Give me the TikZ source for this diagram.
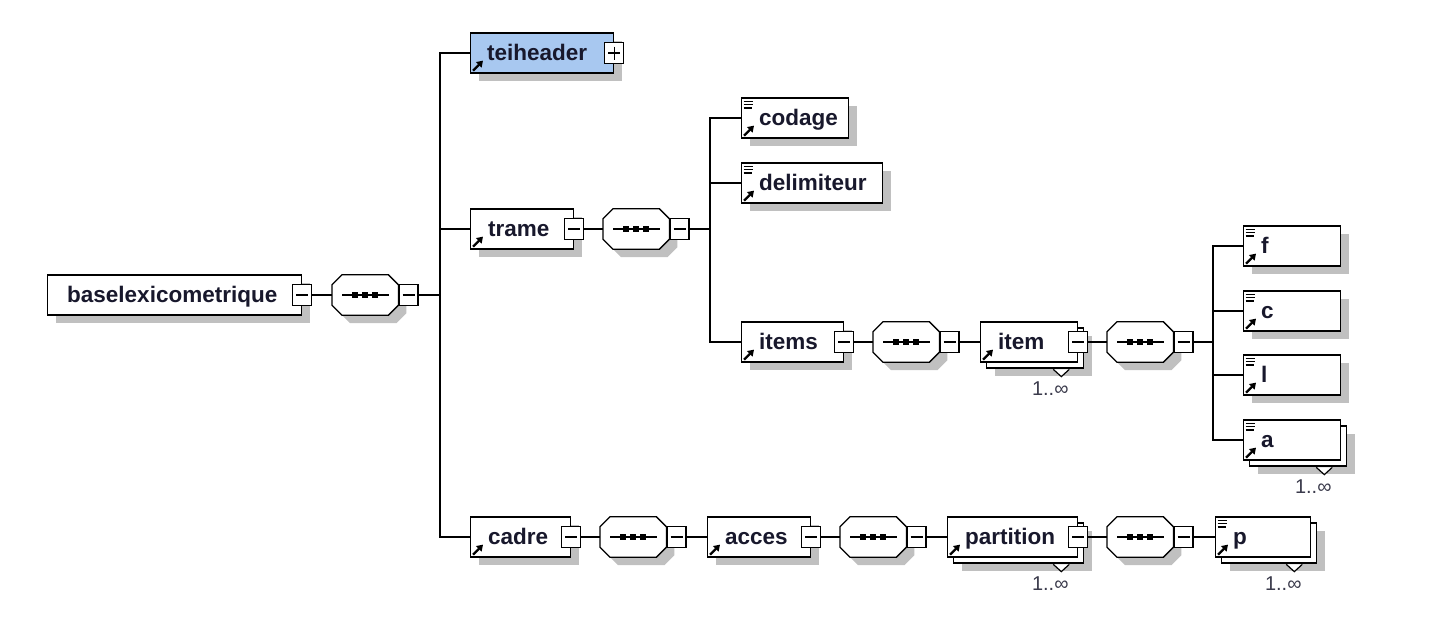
\documentclass[tikz,border=0pt]{standalone}
\usepackage{fontspec}
\setmainfont{Liberation Sans}
\usetikzlibrary{shadows,arrows.meta}
\definecolor{shadowc}{RGB}{192,192,192}
\definecolor{teiblue}{RGB}{168,200,240}
\definecolor{txt}{RGB}{24,24,44}
\tikzset{
 ebase/.style={draw=black, line width=1.3pt, fill=white, minimum height=40pt, inner sep=0pt, anchor=west},
 ebox/.style={ebase, drop shadow={shadow xshift=8pt, shadow yshift=-8pt, fill=shadowc, opacity=1}},
 etext/.style={font=\bfseries\fontsize{22.5}{27}\selectfont, text=txt, inner sep=0pt, anchor=base west},
 tgl/.style={draw=black, line width=1.2pt, fill=white, minimum width=19pt, minimum height=21pt, inner sep=0pt},
 tglminus/.style={tgl, path picture={\draw[line width=1.2pt] ([xshift=3.5pt]path picture bounding box.west) -- ([xshift=-3.5pt]path picture bounding box.east);}},
 tglplus/.style={tgl, path picture={\draw[line width=1.2pt] ([xshift=3.5pt]path picture bounding box.west) -- ([xshift=-3.5pt]path picture bounding box.east) ([yshift=-4pt]path picture bounding box.north) -- ([yshift=4pt]path picture bounding box.south);}},
 conn/.style={line width=1.3pt, draw=black},
 refarrow/.style={line width=2.3pt, -{Triangle[length=6pt,width=7.5pt]}},
 cicon/.style={line width=1.4pt},
 seqbox/.style={minimum width=66pt, minimum height=40pt, inner sep=0pt, anchor=west},
 multlbl/.style={font=\fontsize{20}{24}\selectfont, text=txt!85, inner sep=0pt},
}
\newcommand{\refmark}[1]{\draw[refarrow] ([xshift=3pt,yshift=3pt]#1.south west) -- ([xshift=13pt,yshift=13pt]#1.south west);}
\newcommand{\contmark}[1]{\draw[cicon] ([xshift=2.5pt,yshift=-4pt]#1.north west) -- ++(9.5pt,0pt) ([xshift=2.5pt,yshift=-7.3pt]#1.north west) -- ++(9.5pt,0pt) ([xshift=2.5pt,yshift=-10.6pt]#1.north west) -- ++(8pt,0pt);}
\newcommand{\elem}[5]{%
 \node[ebox, minimum width=#4pt] (#1) at (#2,#3) {};
 \node[etext] (#1-t) at ([xshift=18pt,yshift=-7pt]#1.west) {#5};
 \refmark{#1}}
\newcommand{\multielem}[6]{%
 \node[ebox, minimum width=#4pt] (#1-b) at (#2+6,#3+6) {};
 \node[ebase, minimum width=#4pt] (#1) at (#2,#3) {};
 \node[etext] (#1-t) at ([xshift=18pt,yshift=-7pt]#1.west) {#5};
 \refmark{#1}
 \draw[line width=1.2pt, fill=white] ([xshift=-31pt,yshift=-0.7pt]#1-b.south east) -- ([xshift=-23pt,yshift=-8pt]#1-b.south east) -- ([xshift=-15pt,yshift=-0.7pt]#1-b.south east);
 \node[multlbl] (#1-l) at ([xshift=-34pt,yshift=-20pt]#1-b.south east) {#6};}
\newcommand{\octpath}[1]{([xshift=10pt]#1.north west) -- ([xshift=-10pt]#1.north east) -- ([yshift=-10pt]#1.north east) -- ([yshift=10pt]#1.south east) -- ([xshift=-10pt]#1.south east) -- ([xshift=10pt]#1.south west) -- ([yshift=10pt]#1.south west) -- ([yshift=-10pt]#1.north west) -- cycle}
\newcommand{\seqgroup}[3]{%
 \node[seqbox] (#1) at (#2,#3) {};
 \begin{scope}[transform canvas={xshift=8pt,yshift=-8pt}]
  \fill[shadowc] \octpath{#1};
 \end{scope}
 \filldraw[fill=white, draw=black, line width=1.3pt] \octpath{#1};
 \draw[line width=1.4pt] ([xshift=10pt]#1.west) -- ([xshift=-9pt]#1.east);
 \foreach \dx in {-12.75,-2.75,7.25} \fill ([xshift=\dx pt, yshift=-2.7pt]#1.center) rectangle ++(5.5pt,5.4pt);
 \node[tglminus, anchor=west] (#1-m) at (#1.east) {};}
\begin{document}
\begin{tikzpicture}[x=1pt,y=-1pt]
\fill[white] (0,0) rectangle (1452,640);
\useasboundingbox (0,0) rectangle (1452,640);
% root
\node[ebox, minimum width=254pt] (base) at (47,295) {};
\node[etext] (base-t) at ([xshift=20pt,yshift=-7pt]base.west) {baselexicometrique};
\node[tglminus] (base-m) at (base.east) {};
\seqgroup{s0}{332}{295}
% level 1
\node[ebox, fill=teiblue, minimum width=143pt] (tei) at (470,53) {};
\node[etext] (tei-t) at ([xshift=17pt,yshift=-7pt]tei.west) {teiheader};
\refmark{tei}
\node[tglplus] (tei-p) at (tei.east) {};
\elem{trame}{470}{229}{103}{trame}
\node[tglminus] (trame-m) at (trame.east) {};
\seqgroup{s1}{603}{229}
\elem{cadre}{470}{537}{100}{cadre}
\node[tglminus] (cadre-m) at (cadre.east) {};
\seqgroup{s4}{600}{537}
% trame children
\elem{codage}{741}{118}{107}{codage}\contmark{codage}
\elem{delim}{741}{183}{141}{delimiteur}\contmark{delim}
\elem{items}{741}{342}{102}{items}
\node[tglminus] (items-m) at (items.east) {};
\seqgroup{s2}{873}{342}
\multielem{item}{980}{342}{97}{item}{1..∞}
\node[tglminus] (item-m) at (item.east) {};
\seqgroup{s3}{1107}{342}
\elem{f}{1243}{246}{97}{f}\contmark{f}
\elem{c}{1243}{311}{97}{c}\contmark{c}
\elem{l}{1243}{375}{97}{l}\contmark{l}
\multielem{a}{1243}{440}{97}{a}{1..∞}\contmark{a}
% cadre children
\elem{acces}{707}{537}{103}{acces}
\node[tglminus] (acces-m) at (acces.east) {};
\seqgroup{s5}{840}{537}
\multielem{part}{947}{537}{130}{partition}{1..∞}
\node[tglminus] (part-m) at (part.east) {};
\seqgroup{s6}{1107}{537}
\multielem{p}{1215}{537}{95}{p}{1..∞}\contmark{p}
% connectors
\coordinate (t0) at (440,295);
\coordinate (t1) at (710,229);
\coordinate (t3) at (1213,342);
\draw[conn] (base-m.east) -- (s0.west);
\draw[conn] (s0-m.east) -- (t0);
\draw[conn] (tei.west) -| (t0) |- (cadre.west);
\draw[conn] (trame.west) -| (t0);
\draw[conn] (trame-m.east) -- (s1.west);
\draw[conn] (s1-m.east) -- (t1);
\draw[conn] (codage.west) -| (t1) |- (items.west);
\draw[conn] (delim.west) -| (t1);
\draw[conn] (items-m.east) -- (s2.west);
\draw[conn] (s2-m.east) -- (item.west);
\draw[conn] (item-m.east) -- (s3.west);
\draw[conn] (s3-m.east) -- (t3);
\draw[conn] (f.west) -| (t3) |- (a.west);
\draw[conn] (c.west) -| (t3);
\draw[conn] (l.west) -| (t3);
\draw[conn] (cadre-m.east) -- (s4.west);
\draw[conn] (s4-m.east) -- (acces.west);
\draw[conn] (acces-m.east) -- (s5.west);
\draw[conn] (s5-m.east) -- (part.west);
\draw[conn] (part-m.east) -- (s6.west);
\draw[conn] (s6-m.east) -- (p.west);
\end{tikzpicture}
\end{document}
